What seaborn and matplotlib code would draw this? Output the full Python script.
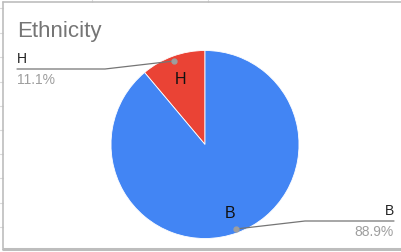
import matplotlib
matplotlib.use("Agg")
import matplotlib.pyplot as plt
import seaborn as sns

# data
categories = ["H", "B"]
counts = [1, 8]
percent_labels = ["11.1%", "88.9%"]
title = "Ethnicity"

sns.set_theme(style="white")
plt.rcParams["font.family"] = ["Liberation Sans", "DejaVu Sans"]

colors = ["#EA4335", "#4285F4"]
W, H = 402, 252

fig = plt.figure(figsize=(W / 100, H / 100), dpi=100)
ax = fig.add_axes([0, 0, 1, 1])


def py(y):
    # pixel row -> data y (y up)
    return H - y


# spreadsheet chrome behind the chart
for y in [8, 33, 57, 82, 106, 130, 154, 178, 203, 227]:
    ax.plot([0, 3], [py(y), py(y)], color="#d9d9d9", lw=0.8)
for x in [92, 208]:
    ax.plot([x, x], [py(0), py(2)], color="#d9d9d9", lw=0.8)
ax.plot([3.5, 3.5], [py(1.5), py(248)], color="#bdbdbd", lw=1.2)
ax.plot([3.5, W], [py(1.5), py(1.5)], color="#bdbdbd", lw=1.2)
ax.plot([3.5, W], [py(248.5), py(248.5)], color="#bdbdbd", lw=2.2)

cx, cy, r = 205, py(144.5), 94
wedges, _ = ax.pie(counts, colors=colors, startangle=90, counterclock=True,
                   center=(cx, cy), radius=r,
                   wedgeprops=dict(edgecolor="white", linewidth=0.6))

# labels inside slices
ax.text(181, py(79), categories[0], ha="center", va="center",
        fontsize=11.5, color="#111111")
ax.text(230, py(213), categories[1], ha="center", va="center",
        fontsize=11.5, color="#111111")

# leader lines with outside labels
line_c = "#757575"
ax.plot([174, 105, 17], [py(61), py(69), py(69)], color=line_c, lw=0.9)
ax.plot([174], [py(61)], "o", color="#9e9e9e", ms=3.5)
ax.text(17, py(66), categories[0], ha="left", va="bottom", fontsize=10,
        color="#222222")
ax.text(17, py(72.5), percent_labels[0], ha="left", va="top", fontsize=10,
        color="#9e9e9e")

ax.plot([236, 305, 394], [py(229), py(221), py(221)], color=line_c, lw=0.9)
ax.plot([236], [py(229)], "o", color="#9e9e9e", ms=3.5)
ax.text(394, py(218), categories[1], ha="right", va="bottom", fontsize=10,
        color="#222222")
ax.text(394, py(224.5), percent_labels[1], ha="right", va="top", fontsize=10,
        color="#9e9e9e")

ax.text(17, py(37), title, ha="left", va="baseline", fontsize=16,
        color="#757575")

ax.set_xlim(0, W)
ax.set_ylim(0, H)
ax.set_aspect("auto")
ax.axis("off")

fig.savefig("out.png", dpi=100)
